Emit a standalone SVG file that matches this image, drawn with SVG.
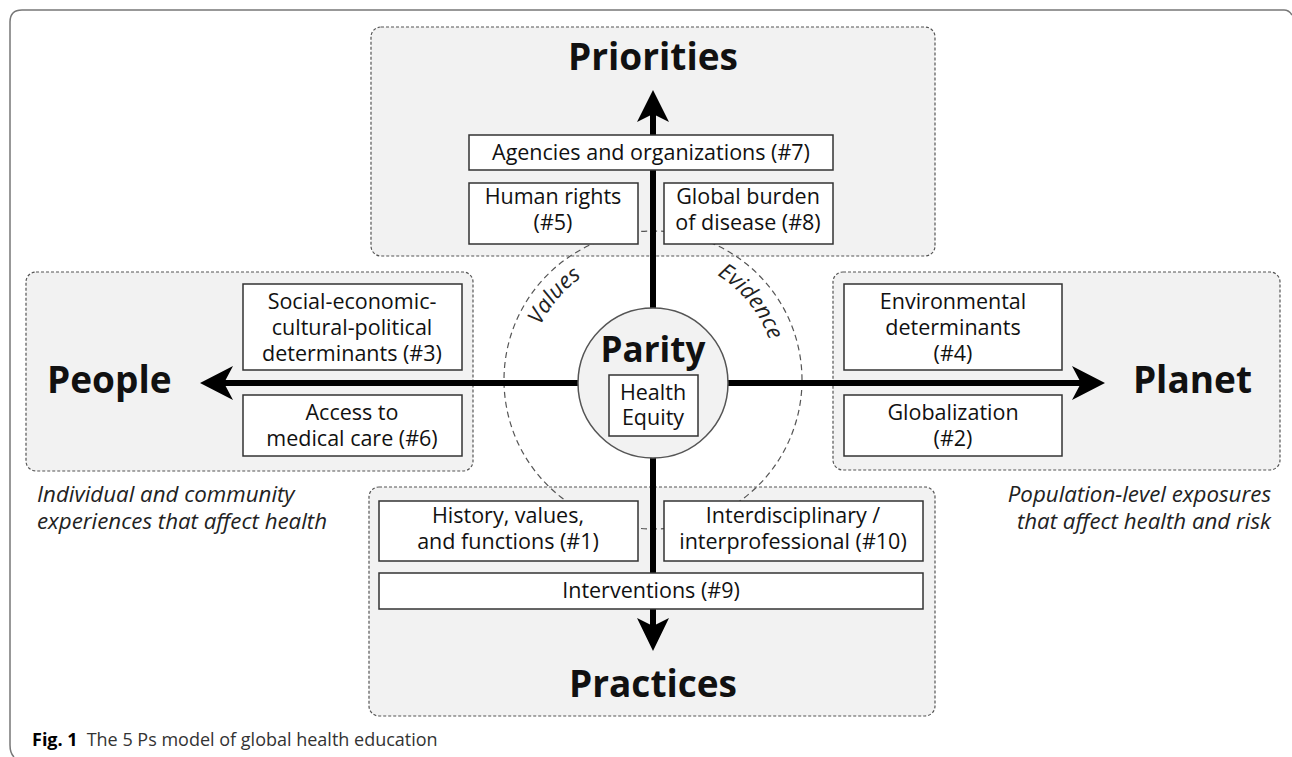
<svg xmlns="http://www.w3.org/2000/svg" width="1292" height="757" viewBox="0 0 1292 757">
<defs>
<style>
.frame{fill:none;stroke:#777;stroke-width:1.5}
.zone{fill:#f2f2f2;stroke:#555;stroke-width:1.2;stroke-dasharray:3 2}
.box{fill:#fff;stroke:#333;stroke-width:1.5}
.t{font-family:"Open Sans","Noto Sans",sans-serif;font-size:21.5px;fill:#111;text-anchor:middle}
.title{font-family:"Open Sans","Noto Sans",sans-serif;font-size:37px;font-weight:bold;fill:#111}
.it{font-family:"Open Sans","Noto Sans",sans-serif;font-size:22.3px;font-style:italic;fill:#222}
.ring{fill:none;stroke:#555;stroke-width:1.2;stroke-dasharray:6 4}
.axis{stroke:#000;stroke-width:6;fill:none}
.head{fill:#000}
.cap{font-family:"Open Sans","Noto Sans",sans-serif;font-size:18px;fill:#333}
</style>
<path id="arcValues" d="M 528 380 A 125 125 0 0 1 653 255"/>
<path id="arcEvidence" d="M 653 257 A 123 123 0 0 1 776 380"/>
</defs>
<rect width="1292" height="757" fill="#fff"/>
<path class="frame" d="M 1292 15 Q 1289 10 1284 10 L 22 10 Q 10 10 10 22 L 10 745 Q 10 753 14 757"/>

<g id="zone-priorities"><rect class="zone" x="371" y="27" width="564" height="229" rx="10"/>
<text class="title" x="653" y="70" text-anchor="middle">Priorities</text></g>
<g id="zone-people"><rect class="zone" x="26" y="272" width="447" height="199" rx="10"/>
<text class="title" x="47" y="393">People</text></g>
<g id="zone-planet"><rect class="zone" x="833" y="272" width="447" height="198" rx="10"/>
<text class="title" x="1252" y="393" text-anchor="end">Planet</text></g>
<g id="zone-practices"><rect class="zone" x="369" y="487" width="566" height="229" rx="10"/>
<text class="title" x="653" y="697" text-anchor="middle">Practices</text></g>

<g id="ring"><circle class="ring" cx="653" cy="380" r="149"/>
<text class="it"><textPath href="#arcValues" startOffset="45%" text-anchor="middle">Values</textPath></text>
<text class="it"><textPath href="#arcEvidence" startOffset="57%" text-anchor="middle">Evidence</textPath></text></g>

<g id="connectors">
<line class="axis" x1="653" y1="112" x2="653" y2="628"/>
<line class="axis" x1="222" y1="383" x2="1083" y2="383"/>
<polygon class="head" points="653,90 669,122 653,114 637,122"/>
<polygon class="head" points="653,651 669,618 653,626 637,618"/>
<polygon class="head" points="200,383 233,366 224,383 233,400"/>
<polygon class="head" points="1105,383 1072,366 1081,383 1072,400"/>
</g>

<g id="n7"><rect class="box" x="469" y="135" width="364" height="35"/><text class="t" x="651" y="160">Agencies and organizations (#7)</text></g>
<g id="n5"><rect class="box" x="469" y="183" width="169" height="61"/><text class="t"><tspan x="553" y="204">Human rights</tspan><tspan x="553" y="230">(#5)</tspan></text></g>
<g id="n8"><rect class="box" x="664" y="183" width="169" height="61"/><text class="t"><tspan x="748" y="204">Global burden</tspan><tspan x="748" y="230">of disease (#8)</tspan></text></g>

<g id="n3"><rect class="box" x="243" y="284" width="219" height="86"/><text class="t"><tspan x="352" y="309">Social-economic-</tspan><tspan x="352" y="335">cultural-political</tspan><tspan x="352" y="361">determinants (#3)</tspan></text></g>
<g id="n6"><rect class="box" x="243" y="395" width="219" height="61"/><text class="t"><tspan x="352" y="420">Access to</tspan><tspan x="352" y="446">medical care (#6)</tspan></text></g>

<g id="n4"><rect class="box" x="844" y="284" width="218" height="86"/><text class="t"><tspan x="953" y="309">Environmental</tspan><tspan x="953" y="335">determinants</tspan><tspan x="953" y="361">(#4)</tspan></text></g>
<g id="n2"><rect class="box" x="844" y="395" width="218" height="61"/><text class="t"><tspan x="953" y="420">Globalization</tspan><tspan x="953" y="446">(#2)</tspan></text></g>

<g id="n1"><rect class="box" x="379" y="501" width="259" height="60"/><text class="t"><tspan x="508" y="523">History, values,</tspan><tspan x="508" y="549">and functions (#1)</tspan></text></g>
<g id="n10"><rect class="box" x="664" y="501" width="259" height="60"/><text class="t"><tspan x="793" y="523">Interdisciplinary /</tspan><tspan x="793" y="549">interprofessional (#10)</tspan></text></g>
<g id="n9"><rect class="box" x="379" y="573" width="544" height="36"/><text class="t" x="651" y="598">Interventions (#9)</text></g>

<g id="parity"><circle cx="653" cy="383" r="75" fill="#f2f2f2" stroke="#555" stroke-width="1.5"/>
<text class="title" x="653" y="362" text-anchor="middle" style="font-size:35px">Parity</text>
<rect class="box" x="609" y="375" width="89" height="61"/>
<text class="t"><tspan x="653" y="400">Health</tspan><tspan x="653" y="425">Equity</tspan></text></g>

<g id="notes">
<text class="it"><tspan x="37" y="502">Individual and community</tspan><tspan x="37" y="529">experiences that affect health</tspan></text>
<text class="it" text-anchor="end"><tspan x="1271" y="502">Population-level exposures</tspan><tspan x="1271" y="529">that affect health and risk</tspan></text>
</g>
<g id="caption"><text class="cap" x="32" y="746"><tspan font-weight="bold" fill="#000">Fig. 1</tspan><tspan dx="9">The 5 Ps model of global health education</tspan></text></g>
</svg>
